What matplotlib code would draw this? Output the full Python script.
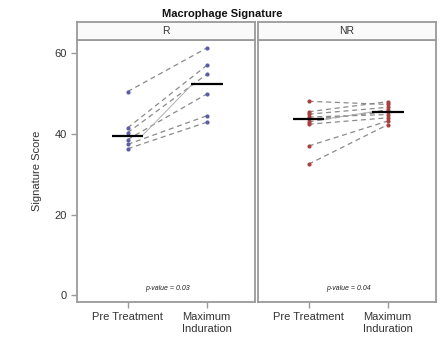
import numpy as np
import matplotlib
matplotlib.use("Agg")
import matplotlib.pyplot as plt

plt.rcParams['font.family'] = ['Liberation Sans', 'DejaVu Sans']

# data
timepoints = ["Pre Treatment", "Maximum\nInduration"]
groups = ["R", "NR"]
r_pre = [50.5, 41.5, 40.3, 38.6, 37.4, 36.3]
r_max = [61.3, 57.0, 54.8, 49.9, 44.5, 42.9]
nr_pre = [48.1, 45.5, 44.9, 44.2, 43.6, 43.0, 42.4, 37.0, 32.5]
nr_max = [47.3, 48.0, 46.6, 44.8, 45.5, 46.0, 44.0, 43.2, 42.3]
pvalues = ["0.03", "0.04"]
yticks = [0, 20, 40, 60]

colors = ["#5b5ea6", "#a8403f"]
frame = "#9a9a9a"
txt = "#333333"

fig = plt.figure(figsize=(4.44, 3.44), dpi=100)
fig.text(0.5, 0.96, "Macrophage Signature", ha="center", va="center",
         fontsize=8, fontweight="bold", color="#111111")

lefts = [77 / 444, 258 / 444]
width = 178 / 444
bottom = 1 - 302 / 344
height = (302 - 40) / 344
strip_h = 18 / 344

data = [(r_pre, r_max), (nr_pre, nr_max)]
for i, (pre, mx) in enumerate(data):
    ax = fig.add_axes([lefts[i], bottom, width, height])
    ax.set_xlim(-0.64, 1.61)
    ax.set_ylim(-1.7, 63.3)
    x = np.array([0, 1])
    for a, b in zip(pre, mx):
        ax.plot(x, [a, b], color="#8a8a8a", ls=(0, (4, 3)), lw=0.9, zorder=1)
    ax.scatter(np.zeros(len(pre)), pre, s=9, color=colors[i], zorder=3,
               linewidths=0)
    ax.scatter(np.ones(len(mx)), mx, s=9, color=colors[i], zorder=3,
               linewidths=0)
    # medians, joined by a faint line
    m0, m1 = np.median(pre), np.median(mx)
    ax.plot([0.18, 0.82], [m0, m1], color="#b0b0b0", lw=0.7, zorder=2)
    ax.hlines([m0, m1], [-0.2, 0.8], [0.2, 1.2], color="black", lw=1.6,
              zorder=4)
    ax.text(0.5, 0.8, "p-value = " + pvalues[i], ha="center", va="bottom",
            fontsize=5, style="italic", color="#222222")

    ax.set_xticks(x)
    ax.set_xticklabels(timepoints, fontsize=8, color=txt)
    ax.set_yticks(yticks)
    if i == 0:
        ax.set_yticklabels([str(t) for t in yticks], fontsize=8, color=txt)
        ax.set_ylabel("Signature Score", fontsize=8, color=txt, labelpad=9)
    else:
        ax.tick_params(axis="y", left=False, labelleft=False)
    ax.tick_params(colors=frame, labelcolor=txt, length=4, width=1)
    for s in ax.spines.values():
        s.set_color(frame)
        s.set_linewidth(1.3)

    # strip header
    sax = fig.add_axes([lefts[i], bottom + height, width, strip_h])
    sax.set_xticks([])
    sax.set_yticks([])
    sax.set_facecolor("#fafafa")
    for s in sax.spines.values():
        s.set_color(frame)
        s.set_linewidth(1.3)
    sax.text(0.5, 0.5, groups[i], ha="center", va="center", fontsize=7.5,
             color=txt, transform=sax.transAxes)

fig.savefig("out.png", dpi=100)
